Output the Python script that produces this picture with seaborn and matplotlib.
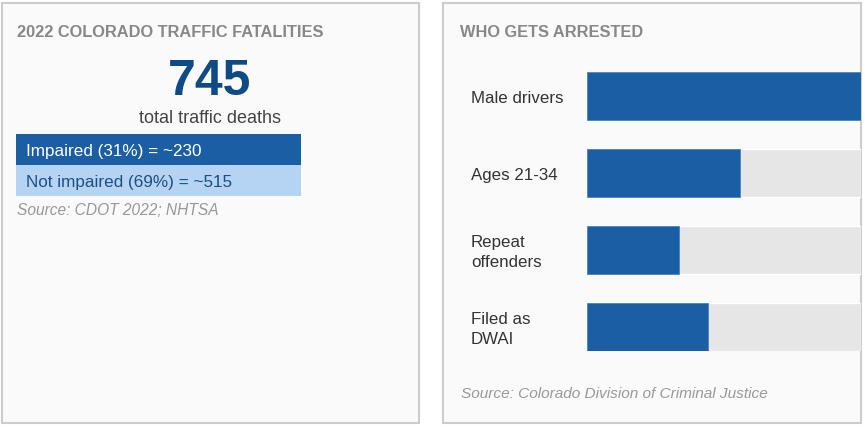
import matplotlib
matplotlib.use('Agg')
import matplotlib.pyplot as plt
from matplotlib.patches import Rectangle
from matplotlib.transforms import blended_transform_factory
import seaborn as sns

# Data for the two panels
total_deaths = 745
split_labels = ['Impaired (31%) = ~230', 'Not impaired (69%) = ~515']
arrest_groups = ['Male drivers', 'Ages 21-34', 'Repeat\noffenders', 'Filed as\nDWAI']
arrest_share = [100, 56, 33.5, 44]   # bar length as share of the visible track
track_full = [100, 100, 100, 100]

sns.set_theme(style='white')
plt.rcParams['font.family'] = ['Liberation Sans', 'DejaVu Sans']

W, H = 865, 429
fig = plt.figure(figsize=(W / 100, H / 100), dpi=100)
fig.patch.set_facecolor('white')

# helpers to go from pixel positions to figure fractions
def fx(px):
    return px / W

def fy(py):
    return 1 - py / H

# Panel backgrounds (behind the axes)
for x0, x1 in [(2, 419), (443, 861)]:
    fig.patches.append(Rectangle((fx(x0), fy(423)), fx(x1) - fx(x0), fy(3) - fy(423),
                                 transform=fig.transFigure, facecolor='#fafafa',
                                 edgecolor='#cccccc', linewidth=1.5, zorder=-2))

# ---- left panel ----
fig.text(fx(17), fy(37), '2022 COLORADO TRAFFIC FATALITIES', fontsize=11.8,
         fontweight='bold', color='#888888', va='baseline', ha='left')
fig.text(fx(210), fy(95), str(total_deaths), fontsize=36, fontweight='bold',
         color='#0e4a84', ha='center', va='baseline')
fig.text(fx(210), fy(123), 'total traffic deaths', fontsize=13, color='#444444',
         ha='center', va='baseline')

box_colors = ['#1b5ea3', '#b5d4f4']
box_text_colors = ['white', '#1f4e80']
box_top = [134, 165]
for lab, fc, tc, top in zip(split_labels, box_colors, box_text_colors, box_top):
    fig.patches.append(Rectangle((fx(16), fy(top + 31)), fx(301) - fx(16), fy(top) - fy(top + 31),
                                 transform=fig.transFigure, facecolor=fc,
                                 edgecolor='none', zorder=-1))
    fig.text(fx(26), fy(top + 22), lab, fontsize=12.3, color=tc, va='baseline',
             ha='left', zorder=2)

fig.text(fx(17), fy(215), 'Source: CDOT 2022; NHTSA', fontsize=11.2, style='italic',
         color='#999999', va='baseline', ha='left')

# ---- right panel ----
fig.text(fx(460), fy(37), 'WHO GETS ARRESTED', fontsize=11.8, fontweight='bold',
         color='#888888', va='baseline', ha='left')

ax = fig.add_axes([fx(587), fy(351), fx(861) - fx(587), fy(72) - fy(351)])
ax.set_facecolor('none')
bw = 0.623
sns.barplot(x=track_full, y=arrest_groups, orient='h', color='#e6e6e6',
            saturation=1, width=bw, ax=ax)
sns.barplot(x=arrest_share, y=arrest_groups, orient='h', color='#1b5ea3',
            saturation=1, width=bw, edgecolor='#4a84c0', linewidth=0.6, ax=ax)
ax.set_xlim(0, 100)
ax.set_ylim(3 + bw / 2, -bw / 2)
ax.axis('off')

trans = blended_transform_factory(fig.transFigure, ax.transData)
for i, lab in enumerate(arrest_groups):
    ax.text(fx(471), i + 0.03, lab, transform=trans, fontsize=12.2, color='#333333',
            ha='left', va='center', linespacing=1.45)

fig.text(fx(461), fy(398), 'Source: Colorado Division of Criminal Justice',
         fontsize=11.1, style='italic', color='#999999', va='baseline', ha='left')

fig.savefig('out.png', dpi=100, facecolor='white')
